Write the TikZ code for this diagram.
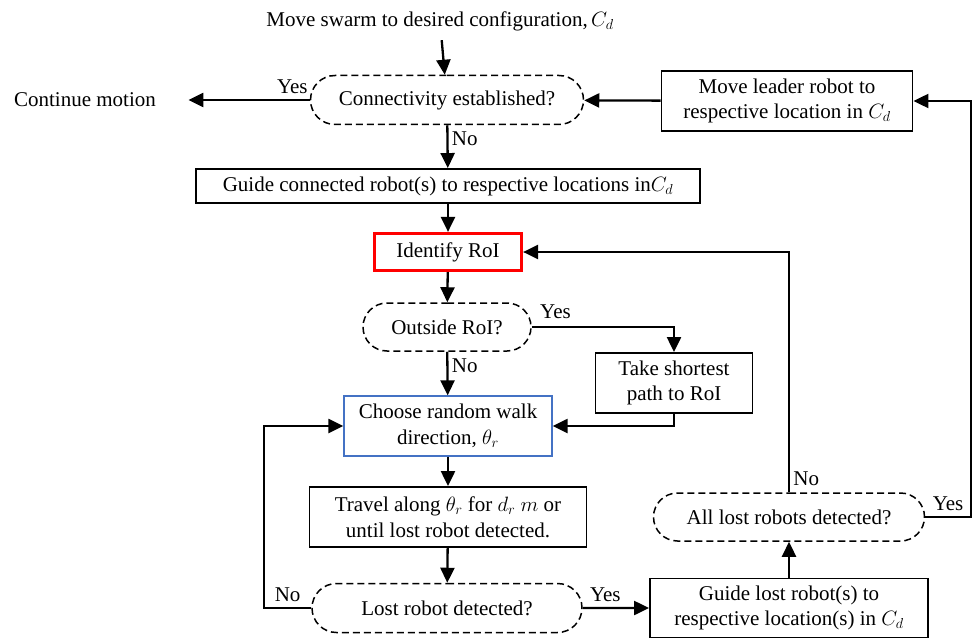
\documentclass[tikz,border=0pt]{standalone}
\usepackage{fontspec}
\setmainfont{Liberation Serif}
\usetikzlibrary{shapes.misc,arrows.meta}
\definecolor{walkblue}{HTML}{4472C4}

\begin{document}
\begin{tikzpicture}[x=1pt, y=-1pt,
        txt/.style={font=\fontsize{21}{25.5}\selectfont, align=center},
        box/.style={txt, draw=black, line width=1.9pt, inner sep=0pt},
        query/.style={txt, rounded rectangle, draw=black, line width=1.5pt, dash pattern=on 7pt off 4pt, inner sep=0pt},
        flow/.style={line width=2.3pt, -{Triangle[length=15pt,width=14pt]}}]
        \useasboundingbox (0,0) rectangle (973,639);
        % left column
        \node[txt] (start) at (440,21) {Move swarm to desired configuration,$\,C_d$};
        \node[query, minimum width=273pt, minimum height=49pt] (conn) at (447,100) {Connectivity established?};
        \node[txt] (cont) at (85,100) {Continue motion};
        \node[box, minimum width=504pt, minimum height=34pt] (guidec) at (448,186) {Guide connected robot(s) to respective locations in$C_d$};
        \node[box, draw=red, line width=3.2pt, minimum width=147pt, minimum height=37pt] (roi) at (448,252) {Identify RoI};
        \node[query, minimum width=168pt, minimum height=48pt] (outside) at (447,327) {Outside RoI?};
        \node[box, draw=walkblue, line width=1.3pt, minimum width=208pt, minimum height=60pt] (walk) at (448,426) {Choose random walk\\direction, $\theta_r$};
        \node[box, minimum width=277pt, minimum height=60pt] (travel) at (448,517) {Travel along $\theta_r$ for $d_r$ $m$ or\\until lost robot detected.};
        \node[query, minimum width=270pt, minimum height=49pt] (lost) at (447,608) {Lost robot detected?};
        % right column
        \node[box, minimum width=251pt, minimum height=60pt] (leader) at (787,101) {Move leader robot to\\respective location in $C_d$};
        \node[box, minimum width=157pt, minimum height=60pt] (shortest) at (674,383) {Take shortest\\path to RoI};
        \node[query, minimum width=271pt, minimum height=48pt] (alllost) at (789,517) {All lost robots detected?};
        \node[box, minimum width=278pt, minimum height=59pt] (guidel) at (789,608) {Guide lost robot(s) to\\respective location(s) in $C_d$};
        \coordinate (leftrail) at (264,0);
        \coordinate (rightrail) at (971,0);

        \draw[flow, shorten <=6pt] (start) -- (conn);
        \draw[flow, shorten >=29pt] (conn) -- node[txt, pos=0, above left, inner sep=1pt, yshift=4pt] {Yes} (cont);
        \draw[flow] (leader) -- (conn);
        \draw[flow] (conn) -- node[txt, pos=0.32, right] {No} (guidec);
        \draw[flow] (guidec) -- (roi);
        \draw[flow] (roi) -- (outside);
        \draw[flow] (outside) -| node[txt, pos=0, above right, xshift=4pt, yshift=4pt] {Yes} (shortest);
        \draw[flow] (shortest) |- (walk);
        \draw[flow] (outside) -- node[txt, pos=0.31, right] {No} (walk);
        \draw[flow] (walk) -- (travel);
        \draw[flow] (travel) -- (lost);
        \draw[flow] (lost.west) -- node[txt, above, yshift=2pt] {No} (leftrail |- lost.west) |- (walk.west);
        \draw[flow] (lost) -- node[txt, pos=0.34, above, yshift=2pt] {Yes} (guidel);
        \draw[flow] (guidel) -- (alllost);
        \draw[flow] (alllost) |- node[txt, pos=0, above right, yshift=2pt] {No} (roi);
        \draw[flow] (alllost.east) -- node[txt, above, yshift=2pt] {Yes} (rightrail |- alllost.east) |- (leader.east);
\end{tikzpicture}
\end{document}
